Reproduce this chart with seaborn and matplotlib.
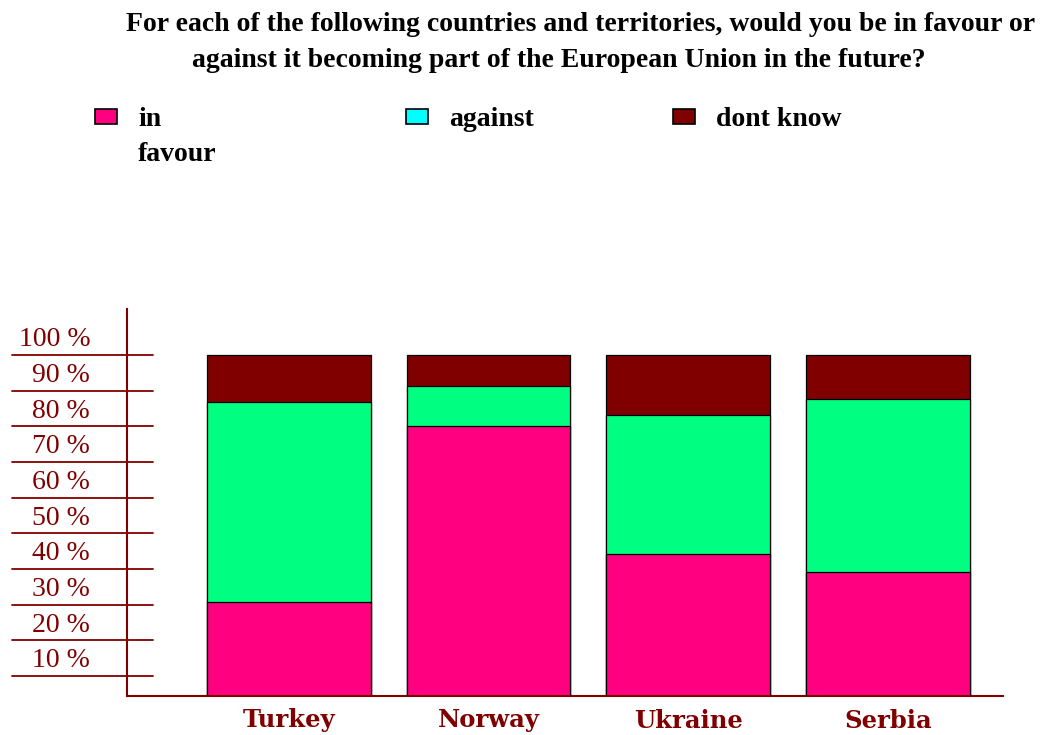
import numpy as np
import pandas as pd
import matplotlib
matplotlib.use("Agg")
import matplotlib.pyplot as plt
import matplotlib.transforms as mtransforms
from matplotlib.patches import Patch, Rectangle
from matplotlib.legend_handler import HandlerPatch
import seaborn as sns

countries = ["Turkey", "Norway", "Ukraine", "Serbia"]
in_favour = [27.6, 79.2, 41.6, 36.4]
against = [58.6, 11.7, 40.8, 50.7]
dont_know = [13.8, 9.1, 17.6, 12.9]
series_names = ["in\nfavour", "against", "dont know"]
tick_labels = ["100 %", "90 %", "80 %", "70 %", "60 %", "50 %", "40 %", "30 %", "20 %", "10 %"]

title_lines = ["For each of the following countries and territories, would you be in favour or",
               "against it becoming part of the European Union in the future?"]

PINK = "#ff0080"
GREEN = "#00ff80"
MAROON = "#800000"
CYAN = "#00ffff"

sns.set_theme(style="white")
plt.rcParams["font.family"] = ["Liberation Serif", "DejaVu Serif"]

fig = plt.figure(figsize=(10.62, 7.35), dpi=100)
ax = fig.add_axes([127 / 1062, 1 - 696 / 735, 876 / 1062, 387 / 735])

df = pd.DataFrame({"country": countries,
                   "fav": in_favour,
                   "ag": against,
                   "dk": dont_know})
df["cum2"] = df["fav"] + df["ag"]
df["cum3"] = df["cum2"] + df["dk"]

common = dict(x="country", order=countries, width=0.82, edgecolor="black",
              linewidth=0.9, ax=ax, saturation=1)
sns.barplot(data=df, y="cum3", color=MAROON, **common)
sns.barplot(data=df, y="cum2", color=GREEN, **common)
sns.barplot(data=df, y="fav", color=PINK, **common)

ax.set_xlim(-0.81, 3.576)
ax.set_ylim(0, 113.5)
ax.set_xlabel("")
ax.set_ylabel("")
ax.set_yticks([])
ax.tick_params(axis="x", length=0, pad=9)
for lbl in ax.get_xticklabels():
    lbl.set_color(MAROON)
    lbl.set_fontweight("bold")
    lbl.set_fontsize(17.5)
    lbl.set_family(["DejaVu Serif"])

for s in ["top", "right"]:
    ax.spines[s].set_visible(False)
for s in ["left", "bottom"]:
    ax.spines[s].set_color(MAROON)
    ax.spines[s].set_linewidth(1.5)

# reference lines on the value axis as drawn in the original
line_pos = np.linspace(100, 5.9, len(tick_labels))
trans = mtransforms.blended_transform_factory(ax.transAxes, ax.transData)
for yv, lab in zip(line_pos, tick_labels):
    ax.plot([-0.131, 0.0297], [yv, yv], color=MAROON, lw=1.3, transform=trans,
            clip_on=False)
    ax.text(-0.042, yv + 0.8, lab, transform=trans, ha="right", va="bottom",
            color=MAROON, fontsize=20)

fig.text(581 / 1062, 0.984, title_lines[0], ha="center", va="top", fontsize=20,
         fontweight="bold", color="black")
fig.text(559 / 1062, 0.984 - 36 / 735, title_lines[1], ha="center", va="top",
         fontsize=20, fontweight="bold", color="black")


def top_patch(legend, orig_handle, xdescent, ydescent, width, height, fontsize):
    return Rectangle((-xdescent, -ydescent + height + 0.2 * fontsize), width, height)


legend_cols = [PINK, CYAN, MAROON]
legend_x = [95 / 1062, 406 / 1062, 673 / 1062]
for name, col, xpos in zip(series_names, legend_cols, legend_x):
    multi = "\n" in name
    handler = HandlerPatch(patch_func=top_patch) if multi else HandlerPatch()
    leg = fig.legend(handles=[Patch(facecolor=col, edgecolor="black", linewidth=1.2)],
                     labels=[name], loc="upper left", bbox_to_anchor=(xpos, 0.854),
                     frameon=False, handlelength=0.8, handleheight=0.45,
                     handletextpad=0.75, borderpad=0, borderaxespad=0,
                     prop={"weight": "bold", "size": 20},
                     handler_map={Patch: handler})
    for t in leg.get_texts():
        t.set_color("black")
        t.set_linespacing(1.5)

fig.savefig("out.png", dpi=100, facecolor="white")
